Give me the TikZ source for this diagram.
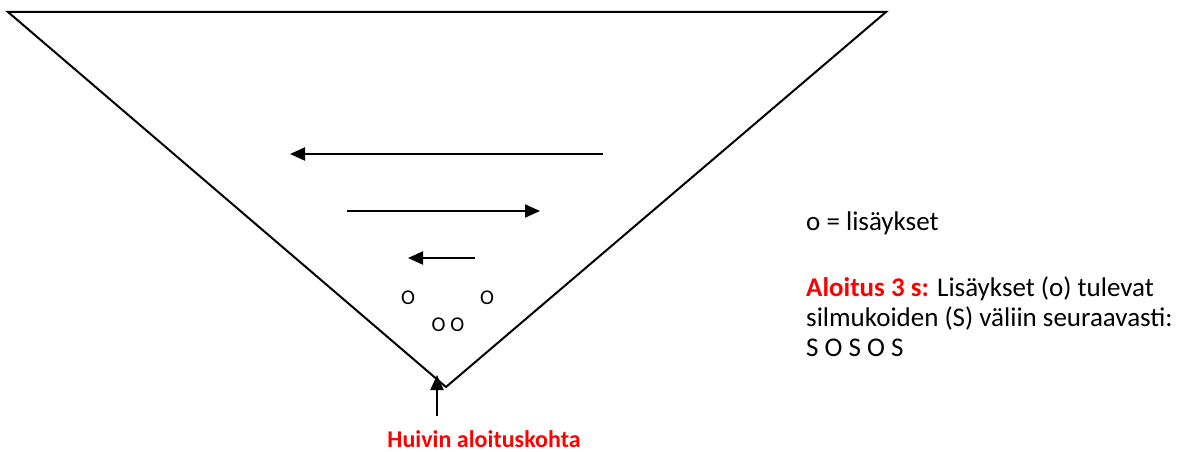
\documentclass[tikz,border=0pt]{standalone}
\usepackage{fontspec}
\setmainfont{Carlito}
\usetikzlibrary{arrows.meta}
\definecolor{hred}{RGB}{255,0,0}
\begin{document}
\begin{tikzpicture}[x=1pt,y=-1pt,
  edge/.style={line width=2pt},
  arr/.style={line width=2pt,-{Triangle[length=15pt,width=13pt]}},
  lbl/.style={inner sep=0pt,font=\fontsize{21}{24}\selectfont},
  txt/.style={inner sep=0pt,anchor=base west,font=\fontsize{27}{30}\selectfont}]
\useasboundingbox (0,0) rectangle (1181,452);
\coordinate (tl) at (8,12);
\coordinate (tr) at (886,12);
\coordinate (bt) at (446,387);
\draw[edge,line join=miter] (tl) -- (tr) -- (bt) -- cycle;
\coordinate (a1s) at (603,154); \coordinate (a1e) at (290,154);
\coordinate (a2s) at (347,211); \coordinate (a2e) at (540,211);
\coordinate (a3s) at (475,258); \coordinate (a3e) at (408,258);
\draw[arr] (a1s) -- (a1e);
\draw[arr] (a2s) -- (a2e);
\draw[arr] (a3s) -- (a3e);
\node[lbl] (o1) at (408,298) {O};
\node[lbl] (o2) at (487,298) {O};
\node[lbl] (o3) at (448,325) {O O};
\node[inner sep=0pt,anchor=base,font=\bfseries\fontsize{24}{28}\selectfont,text=hred] (start) at (484,447) {Huivin aloituskohta};
\coordinate (vs) at (437,416);
\coordinate (ve) at (437,375);
\draw[arr] (vs) -- (ve);
\node[txt] (leg) at (806,230) {o = lisäykset};
\node[txt] (l1) at (806,296) {\textcolor{hred}{\bfseries Aloitus 3 s:} Lisäykset (o) tulevat};
\node[txt] (l2) at (806,326) {silmukoiden (S) väliin seuraavasti:};
\node[txt] (l3) at (806,356) {S O S O S};
\end{tikzpicture}
\end{document}
